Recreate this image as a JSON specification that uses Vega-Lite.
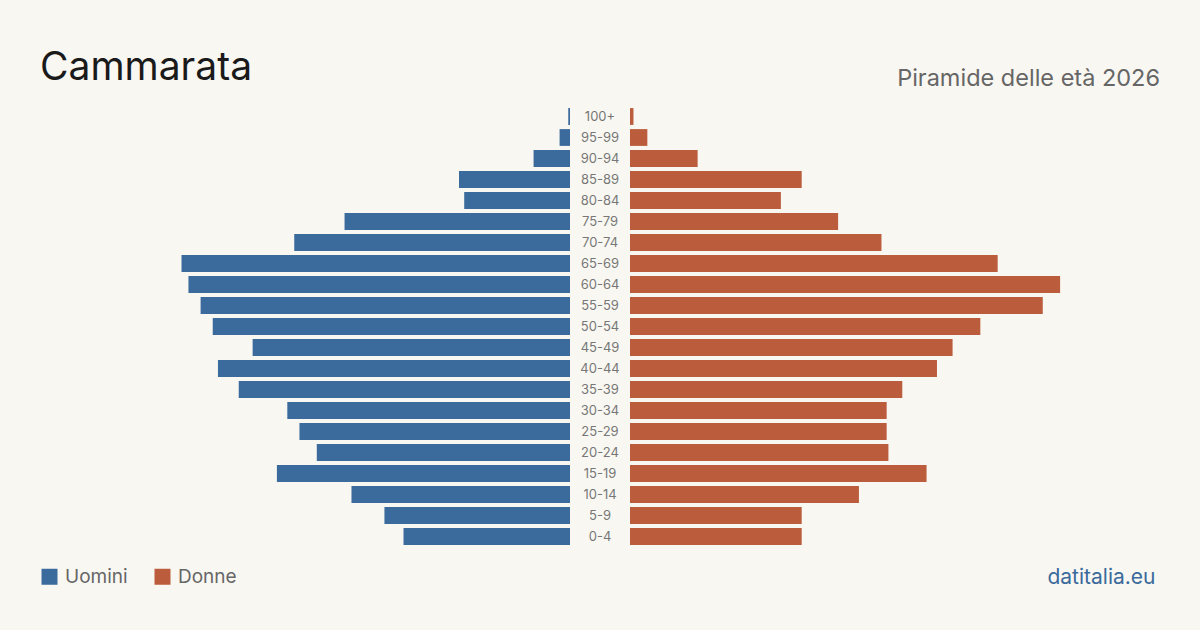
{
  "$schema": "https://vega.github.io/schema/vega-lite/v6.json",
  "background": "#f9f7f2",
  "padding": {"left": 40, "top": 49, "right": 40, "bottom": 50},
  "spacing": 0,
  "config": {
    "font": "Inter",
    "view": {"stroke": null},
    "title": {"baseline": "alphabetic", "fontWeight": "normal"}
  },
  "datasets": {
    "pop": [
      {"eta": "100+", "sesso": "Uomini", "n": 1},
      {"eta": "95-99", "sesso": "Uomini", "n": 6},
      {"eta": "90-94", "sesso": "Uomini", "n": 21},
      {"eta": "85-89", "sesso": "Uomini", "n": 64},
      {"eta": "80-84", "sesso": "Uomini", "n": 61},
      {"eta": "75-79", "sesso": "Uomini", "n": 130},
      {"eta": "70-74", "sesso": "Uomini", "n": 159},
      {"eta": "65-69", "sesso": "Uomini", "n": 224},
      {"eta": "60-64", "sesso": "Uomini", "n": 220},
      {"eta": "55-59", "sesso": "Uomini", "n": 213},
      {"eta": "50-54", "sesso": "Uomini", "n": 206},
      {"eta": "45-49", "sesso": "Uomini", "n": 183},
      {"eta": "40-44", "sesso": "Uomini", "n": 203},
      {"eta": "35-39", "sesso": "Uomini", "n": 191},
      {"eta": "30-34", "sesso": "Uomini", "n": 163},
      {"eta": "25-29", "sesso": "Uomini", "n": 156},
      {"eta": "20-24", "sesso": "Uomini", "n": 146},
      {"eta": "15-19", "sesso": "Uomini", "n": 169},
      {"eta": "10-14", "sesso": "Uomini", "n": 126},
      {"eta": "5-9", "sesso": "Uomini", "n": 107},
      {"eta": "0-4", "sesso": "Uomini", "n": 96},
      {"eta": "100+", "sesso": "Donne", "n": 2},
      {"eta": "95-99", "sesso": "Donne", "n": 10},
      {"eta": "90-94", "sesso": "Donne", "n": 39},
      {"eta": "85-89", "sesso": "Donne", "n": 99},
      {"eta": "80-84", "sesso": "Donne", "n": 87},
      {"eta": "75-79", "sesso": "Donne", "n": 120},
      {"eta": "70-74", "sesso": "Donne", "n": 145},
      {"eta": "65-69", "sesso": "Donne", "n": 212},
      {"eta": "60-64", "sesso": "Donne", "n": 248},
      {"eta": "55-59", "sesso": "Donne", "n": 238},
      {"eta": "50-54", "sesso": "Donne", "n": 202},
      {"eta": "45-49", "sesso": "Donne", "n": 186},
      {"eta": "40-44", "sesso": "Donne", "n": 177},
      {"eta": "35-39", "sesso": "Donne", "n": 157},
      {"eta": "30-34", "sesso": "Donne", "n": 148},
      {"eta": "25-29", "sesso": "Donne", "n": 148},
      {"eta": "20-24", "sesso": "Donne", "n": 149},
      {"eta": "15-19", "sesso": "Donne", "n": 171},
      {"eta": "10-14", "sesso": "Donne", "n": 132},
      {"eta": "5-9", "sesso": "Donne", "n": 99},
      {"eta": "0-4", "sesso": "Donne", "n": 99}
    ]
  },
  "data": {"name": "pop"},
  "hconcat": [
    {
      "width": 530,
      "height": 441,
      "title": {"text": "Cammarata", "anchor": "start", "fontSize": 39, "color": "#1a1a1a", "offset": 18},
      "transform": [{"filter": "datum.sesso === 'Uomini'"}],
      "mark": {"type": "bar"},
      "encoding": {
        "y": {
          "field": "eta", "type": "nominal",
          "sort": ["100+", "95-99", "90-94", "85-89", "80-84", "75-79", "70-74", "65-69", "60-64", "55-59", "50-54", "45-49", "40-44", "35-39", "30-34", "25-29", "20-24", "15-19", "10-14", "5-9", "0-4"],
          "scale": {"paddingInner": 0.2, "paddingOuter": 0.1},
          "axis": null
        },
        "x": {
          "field": "n", "type": "quantitative",
          "scale": {"domain": [0, 305.6], "nice": false, "reverse": true},
          "axis": null
        },
        "color": {
          "field": "sesso", "type": "nominal",
          "scale": {"domain": ["Uomini", "Donne"], "range": ["#3b6a9c", "#bb5c3c"]},
          "legend": {
            "title": null,
            "orient": "none",
            "direction": "horizontal",
            "legendX": 0,
            "legendY": 461,
            "padding": 0,
            "symbolType": "square",
            "symbolSize": 256,
            "symbolStrokeWidth": 0,
            "symbolOpacity": 1,
            "labelFontSize": 19,
            "labelColor": "#666666",
            "labelOffset": 6,
            "columnPadding": 25
          }
        }
      }
    },
    {
      "width": 60,
      "height": 441,
      "transform": [{"filter": "datum.sesso === 'Uomini'"}],
      "mark": {"type": "text", "fontSize": 13, "color": "#777777", "baseline": "middle", "align": "center"},
      "encoding": {
        "y": {
          "field": "eta", "type": "nominal",
          "sort": ["100+", "95-99", "90-94", "85-89", "80-84", "75-79", "70-74", "65-69", "60-64", "55-59", "50-54", "45-49", "40-44", "35-39", "30-34", "25-29", "20-24", "15-19", "10-14", "5-9", "0-4"],
          "scale": {"paddingInner": 0.2, "paddingOuter": 0.1},
          "axis": null
        },
        "text": {"field": "eta", "type": "nominal"}
      }
    },
    {
      "width": 530,
      "height": 441,
      "title": {"text": "Piramide delle età 2026", "anchor": "end", "fontSize": 23.5, "color": "#666666", "offset": 16},
      "transform": [{"filter": "datum.sesso === 'Donne'"}],
      "mark": {"type": "bar"},
      "encoding": {
        "y": {
          "field": "eta", "type": "nominal",
          "sort": ["100+", "95-99", "90-94", "85-89", "80-84", "75-79", "70-74", "65-69", "60-64", "55-59", "50-54", "45-49", "40-44", "35-39", "30-34", "25-29", "20-24", "15-19", "10-14", "5-9", "0-4"],
          "scale": {"paddingInner": 0.2, "paddingOuter": 0.1},
          "axis": null
        },
        "x": {
          "field": "n", "type": "quantitative",
          "scale": {"domain": [0, 305.6], "nice": false},
          "axis": {
            "title": "datitalia.eu",
            "labels": false,
            "ticks": false,
            "domain": false,
            "grid": false,
            "titleColor": "#3b6a9c",
            "titleFontSize": 21,
            "titleFontWeight": "normal",
            "titleBaseline": "alphabetic",
            "titleAlign": "right",
            "titleAnchor": "end",
            "titleX": 525,
            "titleY": 36
          }
        },
        "color": {
          "field": "sesso", "type": "nominal",
          "scale": {"domain": ["Uomini", "Donne"], "range": ["#3b6a9c", "#bb5c3c"]},
          "legend": null
        }
      }
    }
  ],
  "resolve": {"scale": {"color": "independent", "y": "independent", "x": "independent"}, "legend": {"color": "independent"}}
}
